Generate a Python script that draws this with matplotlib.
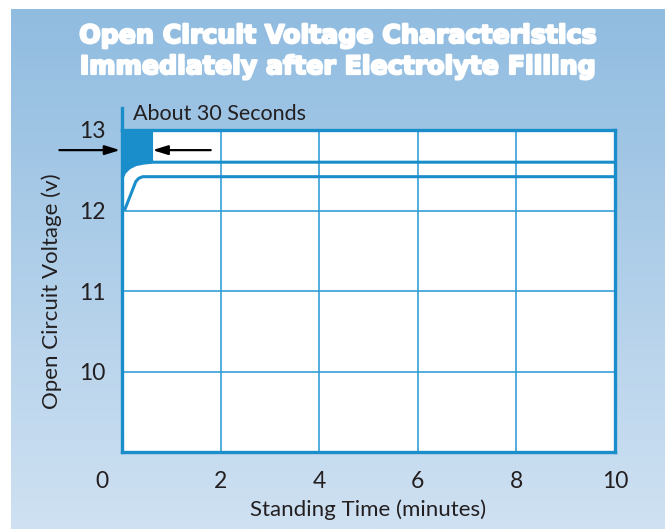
import numpy as np
import matplotlib.pyplot as plt
import matplotlib.patheffects as pe
from matplotlib.colors import LinearSegmentedColormap
from matplotlib.transforms import ScaledTranslation

# values
time_upper = [0.0, 0.05, 0.15, 0.28, 0.45, 0.62, 10.0]
volt_upper = [12.40, 12.47, 12.53, 12.57, 12.59, 12.60, 12.60]
time_lower = [0.05, 0.28, 0.34, 0.42, 10.0]
volt_lower = [12.00, 12.36, 12.40, 12.42, 12.42]
x_ticks = [0, 2, 4, 6, 8, 10]
y_ticks = [10, 11, 12, 13]

BLUE = '#1a8dcb'
GRID = '#36a0d8'
TXT = '#231f20'
FONT = 'Lato'

fig = plt.figure(figsize=(6.65, 5.29), dpi=100)

# gradient background with thin white margin top/left
bg = fig.add_axes([11 / 665, 0, 1 - 11 / 665, 1 - 9 / 529], zorder=-10)
cmap = LinearSegmentedColormap.from_list('bg', ['#90bce0', '#cfe1f2'])
bg.imshow(np.linspace(0, 1, 256).reshape(-1, 1), cmap=cmap, aspect='auto')
bg.axis('off')

for yy, line in [(36, 'Open Circuit Voltage Characteristics'),
                 (67, 'Immediately after Electrolyte Filling')]:
    fig.text(338 / 665, 1 - yy / 529, line, ha='center', va='center',
             color='white', fontsize=18.2, fontweight='bold', family='DejaVu Sans',
             path_effects=[pe.withStroke(linewidth=1.6, foreground='white')])

ax = fig.add_axes([122 / 665, 1 - 452 / 529, (615 - 122) / 665, (452 - 130) / 529])
ax.set_facecolor('white')
ax.set_xlim(0, 10)
ax.set_ylim(9, 13)

for s in ax.spines.values():
    s.set_color(BLUE)
    s.set_linewidth(2.4)

# grid
for x in x_ticks[1:-1]:
    ax.plot([x, x], [9, 13], color=GRID, lw=1.2, zorder=1)
for y in y_ticks[:-1]:
    ax.plot([0, 10], [y, y], color=GRID, lw=1.2, zorder=1)

# filled region for the first ~30 seconds
mask = np.array(time_upper) <= 0.62
tu = np.array(time_upper)[mask]
vu = np.array(volt_upper)[mask]
ax.fill_between(tu, vu, 13, color=BLUE, lw=0, zorder=2)
ax.plot(time_upper, volt_upper, color=BLUE, lw=2.2, zorder=3)
ax.plot(time_lower, volt_lower, color=BLUE, lw=2.2, zorder=3,
        solid_capstyle='butt')

# left spine extends above plot
ax.plot([0, 0], [13, 13.27], color=BLUE, lw=2.4, clip_on=False, zorder=5)

ax.text(0.22, 13.2, 'About 30 Seconds', ha='left', va='center',
        fontsize=15.5, color=TXT, family=FONT)

arrow = dict(arrowstyle='-|>,head_length=0.9,head_width=0.28', color='black',
             lw=1.6, shrinkA=0, shrinkB=0)
ax.annotate('', xy=(-0.04, 12.75), xytext=(-1.27, 12.75),
            arrowprops=arrow, annotation_clip=False)
ax.annotate('', xy=(0.62, 12.75), xytext=(1.8, 12.75),
            arrowprops=arrow, annotation_clip=False)

ax.set_xticks(x_ticks)
ax.set_yticks(y_ticks)
ax.tick_params(length=0, labelsize=16.5, colors=TXT, pad=12)
ax.tick_params(axis='x', pad=14)
for lab in ax.get_xticklabels() + ax.get_yticklabels():
    lab.set_family(FONT)
# the origin label sits left of the frame
zero = ax.get_xticklabels()[0]
zero.set_transform(zero.get_transform() + ScaledTranslation(-20 / 100, 0, fig.dpi_scale_trans))

ax.set_xlabel('Standing Time (minutes)', fontsize=16, color=TXT, family=FONT, labelpad=5)
ax.set_ylabel('Open Circuit Voltage (v)', fontsize=16, color=TXT, family=FONT, labelpad=12)

fig.savefig('out.png', dpi=100)
